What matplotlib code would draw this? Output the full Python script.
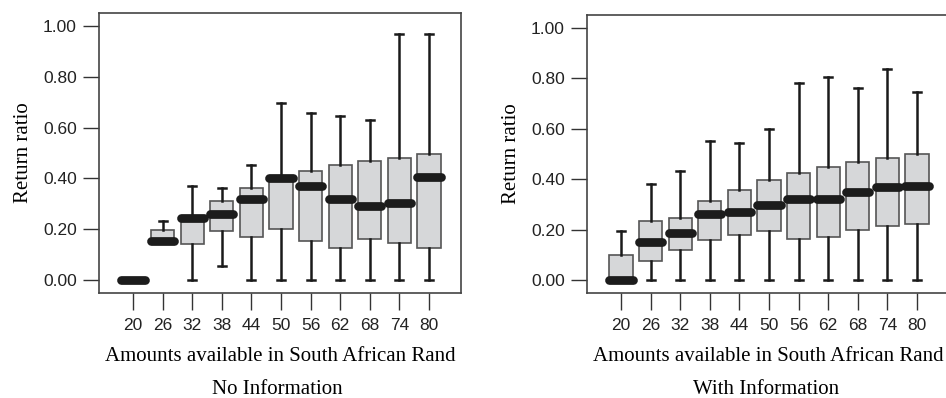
import matplotlib
matplotlib.use("Agg")
import matplotlib.pyplot as plt

# amounts offered (South African Rand)
amounts = [20, 26, 32, 38, 44, 50, 56, 62, 68, 74, 80]

# No Information: whisker low, Q1, median, Q3, whisker high
noinfo_lo = [0.0, 0.15, 0.0, 0.053, 0.0, 0.0, 0.0, 0.0, 0.0, 0.0, 0.0]
noinfo_q1 = [0.0, 0.15, 0.14, 0.192, 0.17, 0.20, 0.155, 0.125, 0.162, 0.146, 0.125]
noinfo_med = [0.0, 0.155, 0.245, 0.26, 0.32, 0.40, 0.371, 0.32, 0.29, 0.304, 0.407]
noinfo_q3 = [0.0, 0.195, 0.25, 0.31, 0.362, 0.40, 0.429, 0.453, 0.467, 0.482, 0.496]
noinfo_hi = [0.0, 0.23, 0.37, 0.362, 0.453, 0.696, 0.658, 0.645, 0.632, 0.97, 0.97]

# With Information
info_lo = [0.0, 0.0, 0.0, 0.0, 0.0, 0.0, 0.0, 0.0, 0.0, 0.0, 0.0]
info_q1 = [0.0, 0.074, 0.12, 0.157, 0.178, 0.194, 0.163, 0.17, 0.20, 0.215, 0.223]
info_med = [0.0, 0.149, 0.186, 0.262, 0.268, 0.299, 0.32, 0.32, 0.351, 0.367, 0.374]
info_q3 = [0.097, 0.232, 0.246, 0.313, 0.359, 0.396, 0.425, 0.449, 0.47, 0.485, 0.50]
info_hi = [0.194, 0.382, 0.432, 0.551, 0.544, 0.598, 0.782, 0.806, 0.762, 0.837, 0.748]

yticks = [0.0, 0.2, 0.4, 0.6, 0.8, 1.0]

SANS = "Liberation Sans"
SERIF = "Liberation Serif"


def make_stats(lo, q1, med, q3, hi):
    out = []
    for a, b, c, d, e in zip(lo, q1, med, q3, hi):
        out.append({"whislo": a, "q1": b, "med": c, "q3": d, "whishi": e, "fliers": []})
    return out


def draw(ax, stats):
    pos = list(range(len(amounts)))
    ax.bxp(stats, positions=pos, widths=0.78, patch_artist=True, showfliers=False,
           capwidths=0.27,
           boxprops=dict(facecolor="#d6d7d9", edgecolor="#555555", linewidth=1.2),
           whiskerprops=dict(color="#1a1a1a", linewidth=1.8),
           capprops=dict(color="#1a1a1a", linewidth=1.8),
           medianprops=dict(color="#1c1c1c", linewidth=6.3, solid_capstyle="round"),
           manage_ticks=False)
    ax.set_xlim(-1.15, 11.08)
    ax.set_ylim(-0.052, 1.052)
    ax.set_xticks(pos)
    ax.set_xticklabels([str(a) for a in amounts], fontfamily=SANS, fontsize=12.5, color="#222222")
    ax.set_yticks(yticks)
    ax.set_yticklabels(["%.2f" % v for v in yticks], fontfamily=SANS, fontsize=12.5, color="#222222")
    ax.tick_params(axis="y", length=11.5, width=1.0, color="#333333", pad=4.5)
    ax.tick_params(axis="x", length=12, width=1.0, color="#333333", pad=6)
    for s in ax.spines.values():
        s.set_color("#444444")
        s.set_linewidth(1.2)
    ax.set_ylabel("Return ratio", fontfamily=SERIF, fontsize=15, labelpad=7)
    ax.set_xlabel("Amounts available in South African Rand", fontfamily=SERIF, fontsize=15, labelpad=10)


fig = plt.figure(figsize=(9.46, 3.98), dpi=100)
ax1 = fig.add_axes([99 / 946, 1 - 293 / 398, 362 / 946, 280 / 398])
ax2 = fig.add_axes([587 / 946, 1 - 293 / 398, 362 / 946, 278 / 398])

draw(ax1, make_stats(noinfo_lo, noinfo_q1, noinfo_med, noinfo_q3, noinfo_hi))
draw(ax2, make_stats(info_lo, info_q1, info_med, info_q3, info_hi))

fig.text(277 / 946, 1 - 390 / 398, "No Information", fontfamily=SERIF, fontsize=15, ha="center", va="center")
fig.text(766 / 946, 1 - 390 / 398, "With Information", fontfamily=SERIF, fontsize=15, ha="center", va="center")

fig.savefig("out.png", dpi=100)
